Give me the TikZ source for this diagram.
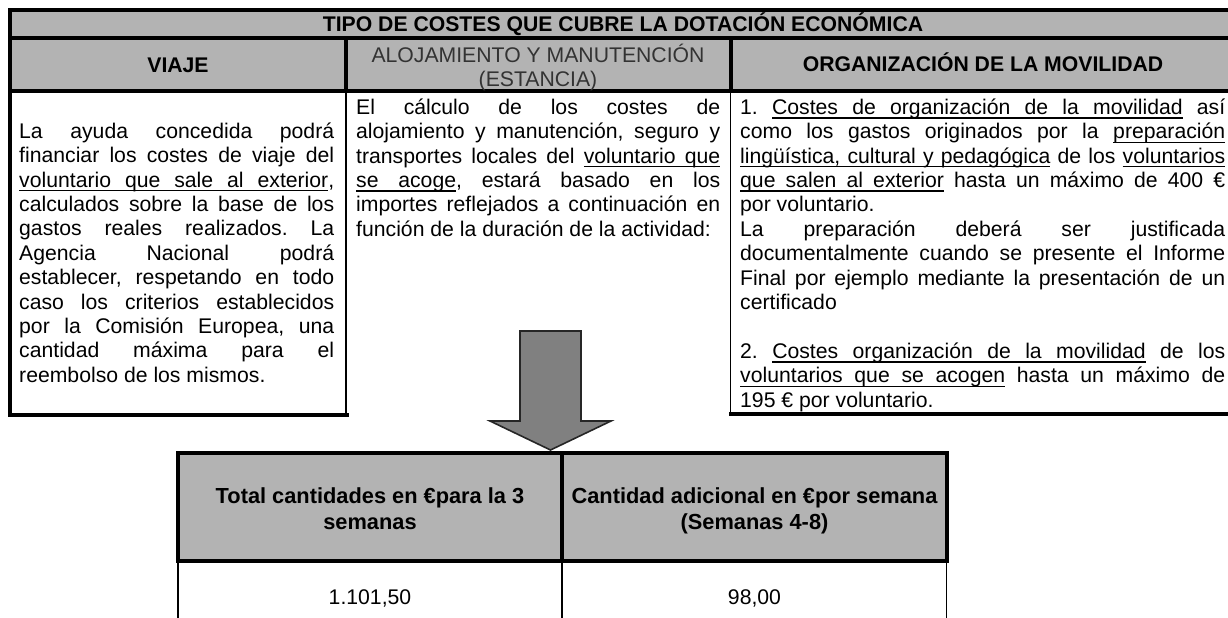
\documentclass[tikz,border=0pt]{standalone}
\usepackage{fontspec}
\setmainfont{Liberation Sans}
\setlength{\parindent}{0pt}
\frenchspacing
\hyphenpenalty=10000 \exhyphenpenalty=10000
\tolerance=10000 \hbadness=10000
\definecolor{cellgray}{RGB}{179,179,179}
\definecolor{arrowgray}{RGB}{128,128,128}
\newcommand{\bodyfont}{\fontsize{21.2}{24.4}\selectfont}
\newcommand{\tablefont}{\fontsize{21.8}{25.5}\selectfont}
% underlined words with stretchable underlined spaces
\newcommand{\ulw}[1]{\setbox0\hbox{#1}\rlap{\rule[-4.4pt]{\wd0}{1.4pt}}\box0\relax}
\newcommand{\ulsp}{\leaders\hrule height -3pt depth 4.4pt\hskip\fontdimen2\font plus\fontdimen3\font minus\fontdimen4\font\relax}
\def\ulend{}
\def\ulnword#1 #2\ulend{\ulw{#1}\ifx\relax#2\relax\else\ulsp\ulnword#2\ulend\fi}
\newcommand{\uln}[1]{\ulnword#1 \ulend}
\tikzset{
    thickrule/.style={line width=4pt, line cap=rect},
    thinrule/.style={line width=1.3pt},
    bodytext/.style={inner sep=0pt, anchor=north west, align=justify, font=\bodyfont},
    headtext/.style={inner sep=0pt, anchor=base, font=\bodyfont\bfseries},
    arrowshape/.style={fill=arrowgray, draw=black!85, line width=1.6pt, line join=miter}
}

\begin{document}
\begin{tikzpicture}[x=1pt, y=-1pt]
            \useasboundingbox (0,0) rectangle (1228,618);
            \coordinate (TopLeft)   at (10.3,10.3);
            \coordinate (TopRight)  at (1236,10.3);
            \coordinate (TitleLeft) at (10.3,38);
            \coordinate (TitleRight) at (1236,38);
            \coordinate (HeadLeft)  at (10.3,90.5);
            \coordinate (HeadRight) at (1236,90.5);
            \coordinate (ColA) at (345.5,38);
            \coordinate (ColB) at (730.5,38);

            % grey rows of the upper table
            \fill[cellgray] (TopLeft) rectangle (HeadRight);
            \draw[thickrule] (TopLeft) -- (TopRight);% top
            \draw[thickrule] (TitleLeft) -- (TitleRight);
            \draw[thickrule] (HeadLeft) -- (HeadRight);
            \draw[thickrule] (ColA) -- (ColA |- HeadLeft);
            \draw[thickrule] (ColB) -- (ColB |- HeadLeft);
            \draw[thickrule] (TopLeft) -- (10.3,414.5);% left side
            \draw[thinrule] (346,90.5) -- (346,414.5);
            \draw[thinrule] (730.5,90.5) -- (730.5,413.5);
            \draw[thickrule] (10.3,414.5) -- (346.5,414.5);% bottom of first box
            \draw[thickrule] (730.5,413.5) -- (1236,413.5);% bottom of third box

            \node[headtext] (title) at (623,31.6) {TIPO DE COSTES QUE CUBRE LA DOTACIÓN ECONÓMICA};
            \node[headtext] (viaje) at (178,72.6) {VIAJE};
            \node[inner sep=0pt, anchor=north, align=center, font=\bodyfont, text=black!80] (estancia) at (538,43.5)
                {\strut ALOJAMIENTO Y MANUTENCIÓN\\(ESTANCIA)};
            \node[headtext] (movilidad) at (983,71.6) {ORGANIZACIÓN DE LA MOVILIDAD};

            \node[bodytext, text width=315pt] (viajetxt) at (19,121) {\strut La ayuda concedida podrá\linebreak
                financiar los costes de viaje del\linebreak
                \uln{voluntario que sale al exterior},\linebreak
                calculados sobre la base de los\linebreak
                gastos reales realizados. La\linebreak
                Agencia Nacional podrá\linebreak
                establecer, respetando en todo\linebreak
                caso los criterios establecidos\linebreak
                por la Comisión Europea, una\linebreak
                cantidad máxima para el\linebreak
                reembolso de los mismos.};
            \node[bodytext, text width=364pt] (estanciatxt) at (356,97) {\strut El cálculo de los costes de\linebreak
                alojamiento y manutención, seguro y\linebreak
                transportes locales del \uln{voluntario que}\linebreak
                \uln{se acoge}, estará basado en los\linebreak
                importes reflejados a continuación en\linebreak
                función de la duración de la actividad:};
            \node[bodytext, text width=485pt] (movilidadtxt) at (740,97) {\strut 1. \uln{Costes de organización de la movilidad} así\linebreak
                como los gastos originados por la \uln{preparación}\linebreak
                \uln{lingüística, cultural y pedagógica} de los \uln{voluntarios}\linebreak
                \uln{que salen al exterior} hasta un máximo de 400 €\linebreak
                por voluntario.\\
                La preparación deberá ser justificada\linebreak
                documentalmente cuando se presente el Informe\linebreak
                Final por ejemplo mediante la presentación de un\linebreak
                certificado\\[24.4pt]
                2. \uln{Costes organización de la movilidad} de los\linebreak
                \uln{voluntarios que se acogen} hasta un máximo de\linebreak
                195 € por voluntario.};

            % arrow down to the amounts
            \draw[arrowshape] (520,331) -- (581,331) -- (581,421) -- (611,421) -- (550.5,450)
                -- (490,421) -- (520,421) -- cycle;

            % lower table
            \fill[cellgray] (178,452.5) rectangle (946.5,560.5);
            \draw[thinrule] (178,560.5) -- (178,625);
            \draw[thinrule] (562,560.5) -- (562,625);
            \draw[thinrule] (946.5,560.5) -- (946.5,625);
            \draw[thickrule] (178,452.5) rectangle (946.5,560.5);
            \draw[thickrule] (562,452.5) -- (562,560.5);

            \node[inner sep=0pt, anchor=north, align=center, font=\tablefont\bfseries] (totalhd) at (370,485.5)
                {\strut Total cantidades en €para la 3\\semanas};
            \node[inner sep=0pt, anchor=north, align=center, font=\tablefont\bfseries] (semanahd) at (754.5,485.5)
                {\strut Cantidad adicional en €por semana\\(Semanas 4-8)};
            \node[headtext, font=\bodyfont] (totalval) at (370,604.6) {1.101,50};
            \node[headtext, font=\bodyfont] (semanaval) at (754.5,604.6) {98,00};
\end{tikzpicture}
\end{document}
